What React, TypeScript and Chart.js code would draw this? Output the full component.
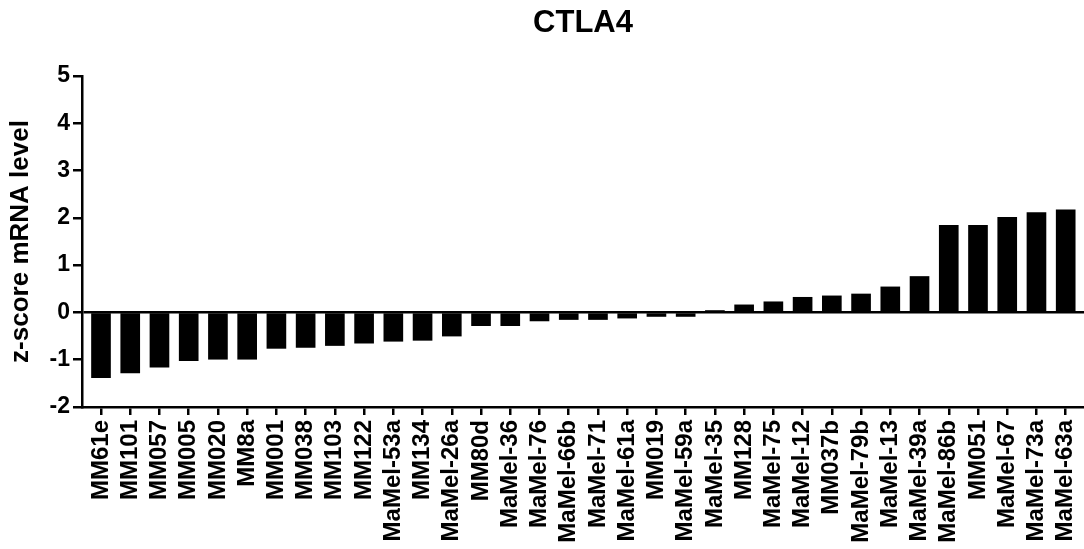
import React, { useEffect, useRef } from 'react';
import { Chart, registerables } from 'chart.js';

Chart.register(...registerables);

const chartTitle = 'CTLA4';
const yAxisTitle = 'z-score mRNA level';

const categories = [
  'MM61e', 'MM101', 'MM057', 'MM005', 'MM020', 'MM8a', 'MM001', 'MM038', 'MM103', 'MM122',
  'MaMel-53a', 'MM134', 'MaMel-26a', 'MM80d', 'MaMel-36', 'MaMel-76', 'MaMel-66b', 'MaMel-71',
  'MaMel-61a', 'MM019', 'MaMel-59a', 'MaMel-35', 'MM128', 'MaMel-75', 'MaMel-12', 'MM037b',
  'MaMel-79b', 'MaMel-13', 'MaMel-39a', 'MaMel-86b', 'MM051', 'MaMel-67', 'MaMel-73a', 'MaMel-63a',
];

const values = [
  -1.38, -1.28, -1.16, -1.02, -0.99, -0.99, -0.76, -0.74, -0.70, -0.65,
  -0.61, -0.59, -0.50, -0.28, -0.28, -0.18, -0.15, -0.15,
  -0.12, -0.085, -0.085, 0.04, 0.16, 0.225, 0.32, 0.35,
  0.39, 0.54, 0.76, 1.84, 1.84, 2.01, 2.11, 2.17,
];

const yMin = -2;
const yMax = 5;
const yStep = 1;

const FONT = '"Liberation Sans", Arial, Helvetica, sans-serif';

export default function App() {
  const ref = useRef<HTMLCanvasElement>(null);

  useEffect(() => {
    document.body.style.margin = '0';
    const titlePlugin = {
      id: 'centerTitle',
      afterDraw(chart: any) {
        const { ctx, chartArea } = chart;
        ctx.save();
        ctx.font = `bold 31px ${FONT}`;
        ctx.fillStyle = '#000';
        ctx.textAlign = 'center';
        ctx.textBaseline = 'middle';
        ctx.fillText(chartTitle, (chartArea.left + chartArea.right) / 2, 23);
        ctx.restore();
      },
    };

    const chart = new Chart(ref.current as HTMLCanvasElement, {
      type: 'bar',
      data: {
        datasets: [
          {
            data: values.map((v, i) => ({ x: i, y: v })),
            backgroundColor: '#000',
            borderWidth: 0,
            barThickness: 19,
          } as any,
        ],
      },
      options: {
        responsive: false,
        animation: false,
        layout: { padding: { top: 76, right: 0, bottom: 0, left: 0 } },
        plugins: {
          legend: { display: false },
          tooltip: { enabled: false },
          title: { display: false },
        },
        scales: {
          x: {
            type: 'linear',
            offset: false,
            min: -0.65,
            max: 33.626,
            afterBuildTicks: (s: any) => {
              s.ticks = categories.map((_, i) => ({ value: i }));
            },
            afterFit: (s: any) => {
              s.height = 142;
              s.paddingLeft = 0;
              s.paddingRight = 0;
            },
            grid: {
              offset: false,
              drawOnChartArea: false,
              drawTicks: true,
              tickLength: 8,
              tickColor: '#000',
              tickWidth: 2.5,
              lineWidth: 2.5,
            },
            border: { display: true, color: '#000', width: 2.5 },
            ticks: {
              autoSkip: false,
              maxRotation: 90,
              minRotation: 90,
              padding: 5,
              color: '#000',
              font: { family: FONT, size: 24, weight: 'bold' },
              callback: (v: any) => categories[v] ?? '',
            },
          },
          y: {
            min: yMin,
            max: yMax,
            afterFit: (s: any) => {
              s.width = 82;
            },
            grid: {
              drawOnChartArea: true,
              color: (c: any) => (c.tick && c.tick.value === 0 ? '#000' : 'rgba(0,0,0,0)'),
              lineWidth: 2.5,
              drawTicks: true,
              tickLength: 9,
              tickColor: '#000',
              tickWidth: 2.5,
            },
            border: { display: true, color: '#000', width: 2.5 },
            ticks: {
              stepSize: yStep,
              padding: 3,
              color: '#000',
              font: { family: FONT, size: 23, weight: 'bold' },
            },
            title: {
              display: true,
              text: yAxisTitle,
              color: '#000',
              font: { family: FONT, size: 26, weight: 'bold' },
              padding: { top: 5, bottom: 0 },
            },
          },
        },
      } as any,
      plugins: [titlePlugin],
    });
    return () => chart.destroy();
  }, []);

  return <canvas ref={ref} width={1084} height={549} style={{ display: 'block' }} />;
}
